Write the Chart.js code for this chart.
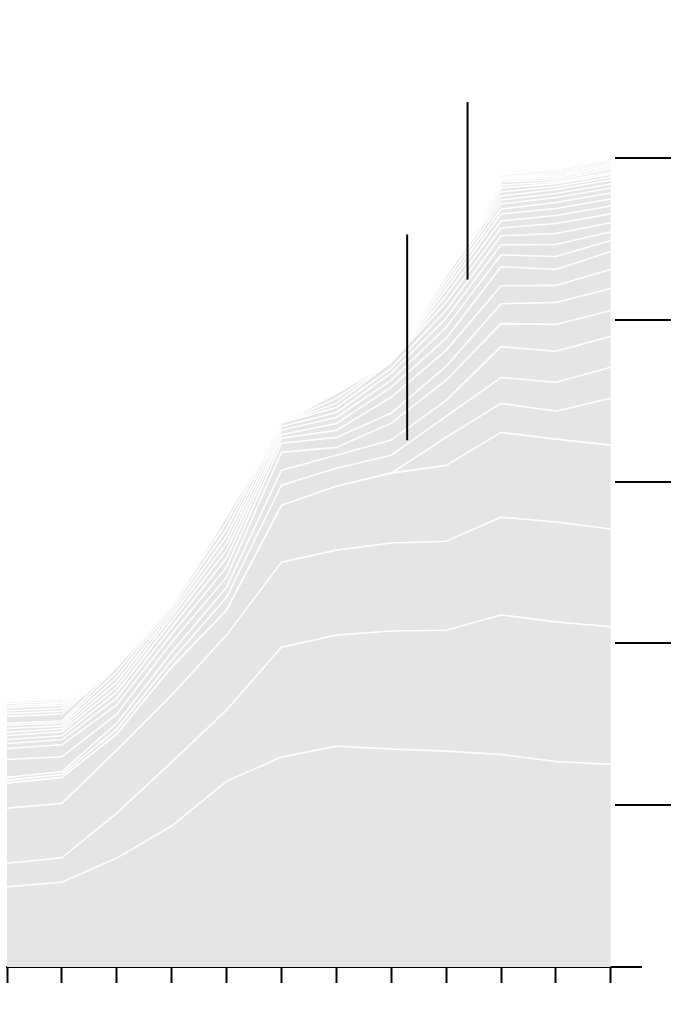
<!DOCTYPE html>
<html lang="en">
<head>
    <meta charset="UTF-8">
    <title>Stacked area</title>
    <style>
        html, body { margin: 0; padding: 0; background: #fff; }
        canvas { display: block; }
    </style>
</head>
<body>
    <canvas id="myChart" width="690" height="1020"></canvas>

    <script src="https://cdn.jsdelivr.net/npm/chart.js"></script>
    <script>
        // x positions (12 periods) and axis marks
        const xIdx = [0, 1, 2, 3, 4, 5, 6, 7, 8, 9, 10, 11];
        const yMarks = [10, 20, 30, 40, 50];

        // stacked layers, bottom to top
        const layer01 = [4.95, 5.24, 6.73, 8.71, 11.49, 12.97, 13.65, 13.47, 13.34, 13.13, 12.70, 12.52];
        const layer02 = [1.46, 1.51, 2.78, 3.95, 4.39, 6.79, 6.86, 7.29, 7.47, 8.63, 8.63, 8.51];
        const layer03 = [3.41, 3.36, 3.89, 4.14, 4.63, 5.25, 5.25, 5.44, 5.50, 6.04, 6.17, 6.04];
        const layer04 = [1.54, 1.60, 0.99, 1.73, 1.54, 3.52, 3.95, 4.32, 4.69, 5.24, 5.12, 5.18];
        const layer05 = [0, 0, 0, 0, 0, 0, 0, 0, 1.73, 1.79, 1.73, 2.90];
        const layer06 = [0.17, 0.18, 0.31, 0.43, 0.80, 1.24, 1.11, 1.11, 1.30, 1.60, 1.79, 1.91];
        const layer07 = [0.20, 0.18, 0.37, 0.49, 0.62, 0.93, 0.80, 0.93, 0.99, 1.91, 1.91, 1.91];
        const layer08 = [1.09, 0.92, 0.56, 0.62, 0.62, 1.11, 0.49, 1.05, 1.24, 1.42, 1.66, 1.60];
        const layer09 = [0.68, 0.74, 0.56, 0.49, 0.62, 0.56, 0.62, 0.62, 0.86, 1.23, 1.36, 1.36];
        const layer10 = [0.31, 0.31, 0.43, 0.43, 0.56, 0.31, 0.43, 0.99, 0.99, 1.11, 1.05, 1.17];
        const layer11 = [0.25, 0.25, 0.37, 0.37, 0.49, 0.22, 0.43, 0.62, 0.74, 1.17, 0.99, 1.11];
        const layer12 = [0.25, 0.25, 0.31, 0.31, 0.43, 0.28, 0.37, 0.43, 0.68, 0.74, 0.80, 0.68];
        const layer13 = [0.20, 0.18, 0.31, 0.25, 0.43, 0.22, 0.31, 0.43, 0.56, 0.62, 0.74, 0.55];
        const layer14 = [0.23, 0.18, 0.31, 0.25, 0.43, 0.22, 0.31, 0.31, 0.49, 0.55, 0.68, 0.55];
        const layer15 = [0.20, 0.18, 0.31, 0.19, 0.43, 0, 0.25, 0.37, 0.49, 0.49, 0.62, 0.55];
        const layer16 = [0.12, 0.12, 0.31, 0, 0.37, 0, 0.31, 0, 0.43, 0.43, 0.49, 0.49];
        const layer17 = [0.43, 0.43, 0, 0, 0, 0, 0.31, 0, 0.37, 0.43, 0.43, 0.43];
        const layer18 = [0.18, 0.18, 0, 0, 0, 0, 0, 0, 0.31, 0.31, 0.37, 0.37];
        const layer19 = [0.17, 0.18, 0, 0, 0, 0, 0, 0, 0.28, 0.31, 0.31, 0.31];
        const layer20 = [0.18, 0.18, 0, 0, 0, 0, 0, 0, 0.28, 0.25, 0.25, 0.25];
        const layer21 = [0.12, 0.12, 0, 0, 0, 0, 0, 0, 0, 0.25, 0.25, 0.25];
        const layer22 = [0.14, 0.12, 0, 0, 0, 0, 0, 0, 0, 0.25, 0.18, 0.18];
        const layer23 = [0.12, 0.12, 0, 0, 0, 0, 0, 0, 0, 0.25, 0.18, 0.18];
        const layer24 = [0, 0, 0, 0, 0, 0, 0, 0, 0, 0.18, 0.12, 0.12];
        const layer25 = [0, 0, 0, 0, 0, 0, 0, 0, 0, 0.18, 0.12, 0.18];
        const layer26 = [0, 0, 0, 0, 0, 0, 0, 0, 0, 0.12, 0.12, 0.12];
        const layer27 = [0, 0, 0, 0, 0, 0, 0, 0, 0, 0.06, 0.12, 0.12];
        const layer28 = [0, 0, 0, 0, 0, 0, 0, 0, 0, 0.06, 0.12, 0.12];
        const layer29 = [0, 0, 0, 0, 0, 0, 0, 0, 0, 0.06, 0.12, 0.12];
        const layer30 = [0, 0, 0, 0, 0, 0, 0, 0, 0, 0.12, 0.12, 0.12];

        // the two vertical range marks
        const markA = [{x: 7.29, y: 32.55}, {x: 7.29, y: 45.27}];
        const markB = [{x: 8.39, y: 42.48}, {x: 8.39, y: 53.45}];

        const layers = [layer01, layer02, layer03, layer04, layer05, layer06, layer07, layer08, layer09, layer10,
            layer11, layer12, layer13, layer14, layer15, layer16, layer17, layer18, layer19, layer20,
            layer21, layer22, layer23, layer24, layer25, layer26, layer27, layer28, layer29, layer30];

        const datasets = layers.map((vals, i) => ({
            data: vals,
            fill: i === 0 ? 'origin' : '-1',
            backgroundColor: '#e5e5e5',
            borderColor: '#ffffff',
            borderWidth: 1.6,
            pointRadius: 0,
            tension: 0,
            yAxisID: 'y'
        }));

        [markA, markB].forEach(m => {
            datasets.push({
                data: m,
                fill: false,
                borderColor: '#000000',
                borderWidth: 2,
                pointRadius: 0,
                yAxisID: 'y2',
                order: -1
            });
        });

        // short marks to the right of the plot, placed with the y scale
        const rightMarks = {
            id: 'rightMarks',
            afterDraw(chart) {
                const {ctx, chartArea, scales} = chart;
                ctx.save();
                ctx.strokeStyle = '#000';
                ctx.lineWidth = 2;
                yMarks.forEach(v => {
                    const y = Math.round(scales.y.getPixelForValue(v));
                    ctx.beginPath();
                    ctx.moveTo(chartArea.right - 26, y);
                    ctx.lineTo(chartArea.right + 30, y);
                    ctx.stroke();
                });
                ctx.restore();
            }
        };

        const config = {
            type: 'line',
            data: { labels: xIdx, datasets: datasets },
            options: {
                responsive: false,
                animation: false,
                layout: { padding: { left: 7, right: 49, top: 77, bottom: 37 } },
                plugins: {
                    legend: { display: false },
                    tooltip: { enabled: false }
                },
                scales: {
                    x: {
                        type: 'linear',
                        min: 0,
                        max: 11.55,
                        afterBuildTicks: s => { s.ticks = xIdx.map(v => ({ value: v })); },
                        ticks: { display: false },
                        grid: { drawOnChartArea: false, drawTicks: true, tickLength: 16, tickColor: '#000', tickWidth: 2 },
                        border: { display: true, color: '#000', width: 2 }
                    },
                    y: {
                        display: false,
                        stacked: true,
                        min: 0,
                        max: 55
                    },
                    y2: {
                        display: false,
                        min: 0,
                        max: 55
                    }
                }
            },
            plugins: [rightMarks]
        };

        const ctx = document.getElementById('myChart').getContext('2d');
        new Chart(ctx, config);
    </script>
</body>
</html>
